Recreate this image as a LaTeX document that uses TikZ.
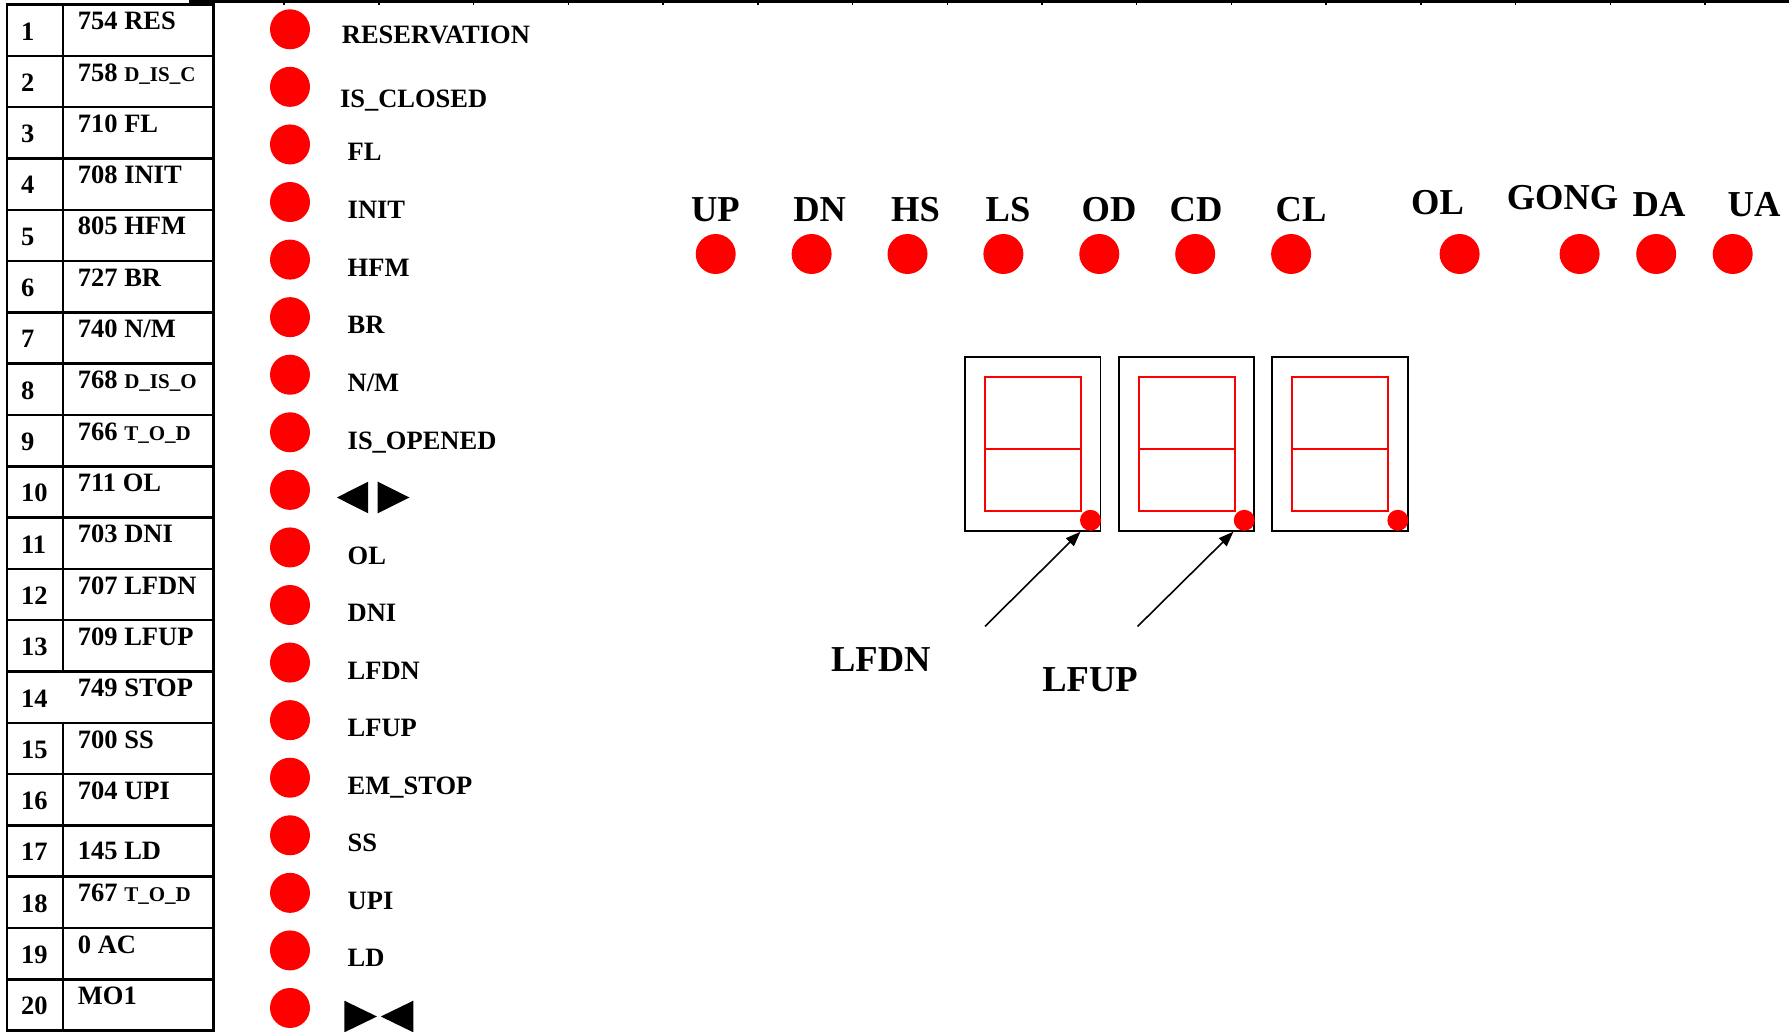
\documentclass[tikz,border=0pt]{standalone}
\usepackage{fontspec}
\setmainfont{Liberation Serif}
\usetikzlibrary{arrows.meta}
\newcommand\minortext[1]{{\fontsize{21}{24}\selectfont #1}}
\begin{document}
\begin{tikzpicture}[x=1pt,y=-1pt,
  rule/.style={line width=2.5pt},
  cell/.style={inner sep=0pt, anchor=base west, font=\bfseries\fontsize{26.5}{30}\selectfont},
  head/.style={inner sep=0pt, anchor=base, font=\bfseries\fontsize{36.5}{40}\selectfont},
  led/.style={circle, fill=red, inner sep=0pt, minimum size=40pt},
  segdot/.style={circle, fill=red, inner sep=0pt, minimum size=21pt},
  dispbox/.style={draw=black, line width=1.8pt, inner sep=0pt, minimum width=135.5pt, minimum height=174pt},
  seg/.style={draw=red, line width=1.8pt},
  ptr/.style={line width=1.6pt, -{Triangle[length=15pt,width=11pt]}},
  tri/.style={fill=black}
]
\useasboundingbox (0,0) rectangle (1789,1032);

% ruled strip along the top edge
\draw[line width=2.5pt] (189.5,1.5) -- (1789,1.5);
\foreach \k in {0,...,16}
  \draw[line width=1.5pt] ({189.5+94.72*\k},0) -- ({189.5+94.72*\k},5);

% address table
\draw[rule] (7,4.6) rectangle (213.5,1030.5);
\foreach \i in {1,...,19}
  \draw[rule] (7,{4.6+51.3*\i}) -- (213.5,{4.6+51.3*\i});
\draw[rule] (63,4.6) -- (63,671.5) (63,722.8) -- (63,1030.5);

\foreach \i in {1,...,20}
  \node[cell] (n\i) at (21,{4.6+51.3*(\i-1)+35.5}) {\i};

\foreach \i/\t in {1/{754 RES}, 2/{758 \minortext{D\_IS\_C}}, 3/{710 FL}, 4/{708 INIT},
                   5/{805 HFM}, 6/{727 BR}, 7/{740 N/M}, 8/{768 \minortext{D\_IS\_O}},
                   9/{766 \minortext{T\_O\_D}}, 10/{711 OL}, 11/{703 DNI}, 12/{707 LFDN},
                   13/{709 LFUP}, 14/{749 STOP}, 15/{700 SS}, 16/{704 UPI},
                   18/{767 \minortext{T\_O\_D}}, 19/{0 AC}, 20/{MO1}}
  \node[cell] (a\i) at (77.7,{4.6+51.3*(\i-1)+25.2}) {\t};
\node[cell] (a17) at (77.7,{4.6+51.3*16+33.8}) {145 LD};

% signal lamps down the left side
\foreach \k in {1,...,18}
  \node[led] (s\k) at (290,{29.3+57.57*(\k-1)}) {};

\node[cell] (t1)  at (341.7,43.3)  {RESERVATION};
\node[cell] (t2)  at (339.8,107.4) {IS\_CLOSED};
\node[cell] (t3)  at (347.5,160.1) {FL};
\node[cell] (t4)  at (347.5,218.8) {INIT};
\node[cell] (t5)  at (347.5,276.5) {HFM};
\node[cell] (t6)  at (347.5,333.5) {BR};
\node[cell] (t7)  at (347.5,391.4) {N/M};
\node[cell] (t8)  at (347.5,449.2) {IS\_OPENED};
\node[cell] (t10) at (347.5,564.7) {OL};
\node[cell] (t11) at (347.5,621.8) {DNI};
\node[cell] (t12) at (347.5,679.2) {LFDN};
\node[cell] (t13) at (347.5,736.6) {LFUP};
\node[cell] (t14) at (347.5,794.0) {EM\_STOP};
\node[cell] (t15) at (347.5,851.7) {SS};
\node[cell] (t16) at (347.5,909.3) {UPI};
\node[cell] (t17) at (347.5,966.8) {LD};

% door symbols: opening and closing
\fill[tri] (336.8,497.5) -- (368.2,481.7) -- (368.2,513.3) -- cycle;
\fill[tri] (377.7,481.7) -- (409.5,497.5) -- (377.7,513.3) -- cycle;
\fill[tri] (344.4,1000.7) -- (377.0,1016.5) -- (344.4,1032.3) -- cycle;
\fill[tri] (413.3,1000.7) -- (380.8,1016.5) -- (413.3,1032.3) -- cycle;

% status lamps along the top
\foreach \x/\n in {715.7/UP, 811.6/DN, 907.5/HS, 1003.4/LS, 1099.3/OD,
                   1195.2/CD, 1291.1/CL, 1459.6/OL, 1579.6/GONG, 1656.2/DA, 1732.7/UA}
  \node[led] (p\n) at (\x,254) {};

\node[head] (hUP)   at (715.4,221.5)  {UP};
\node[head] (hDN)   at (819.7,221.5)  {DN};
\node[head] (hHS)   at (915.5,221.5)  {HS};
\node[head] (hLS)   at (1008.0,221.5) {LS};
\node[head] (hOD)   at (1109.0,221.5) {OD};
\node[head] (hCD)   at (1196.0,221.5) {CD};
\node[head] (hCL)   at (1301.0,221.5) {CL};
\node[head] (hOL)   at (1437.5,215.0) {OL};
\node[head] (hGONG) at (1562.5,210.0) {GONG};
\node[head] (hDA)   at (1659.0,216.5) {DA};
\node[head] (hUA)   at (1754.0,216.5) {UA};

% three-digit floor display
\foreach \x [count=\j] in {1032.75,1186.5,1340.1} {
  \node[dispbox] (d\j) at (\x,443.7) {};
  \begin{scope}[shift={(\x,443.7)}]
    \draw[seg] (-47.75,-67) rectangle (48.25,67.3);
    \draw[seg] (-47.75,4.9) -- (48.25,4.9);
  \end{scope}
  \node[segdot] (dp\j) at ({\x+57.75},520.3) {};
}

% pointers to the decimal points
\node[head] (lfdn) at (880.8,671.7) {LFDN};
\node[head] (lfup) at (1090.0,691.7) {LFUP};
\coordinate (fdnfoot) at (985.0,626.4);
\coordinate (fdntip)  at (1080.5,531.7);
\coordinate (fupfoot) at (1137.6,626.4);
\coordinate (fuptip)  at (1233.4,531.7);
\draw[ptr] (fdnfoot) -- (fdntip);
\draw[ptr] (fupfoot) -- (fuptip);
\end{tikzpicture}
\end{document}
